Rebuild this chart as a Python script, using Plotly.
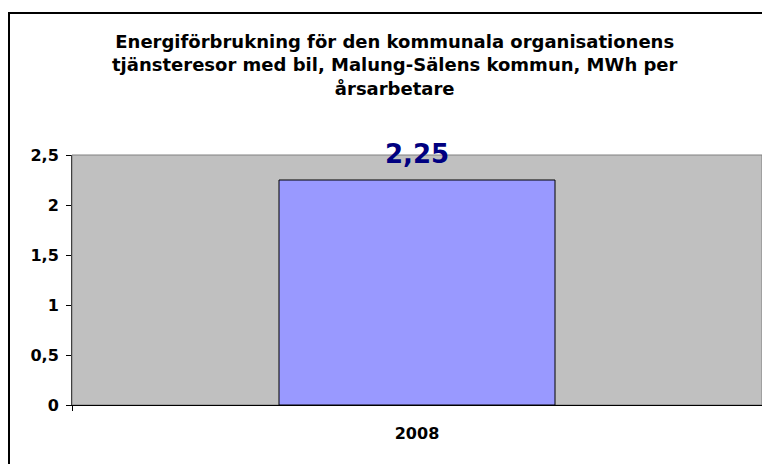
import plotly.graph_objects as go

categories = ["2008"]
values = [2.25]
y_tick_vals = [0, 0.5, 1, 1.5, 2, 2.5]
y_tick_text = ["0", "0,5", "1", "1,5", "2", "2,5"]
title_lines = [
    "Energiförbrukning för den kommunala organisationens",
    "tjänsteresor med bil, Malung-Sälens kommun, MWh per",
    "årsarbetare",
]

# the page body adds an 8px offset; work in figure coordinates
OFF = 8
W, H = 770 - OFF, 464 - OFF
L, R, T, B = 72 - OFF, 762 - OFF, 155 - OFF, 405 - OFF
FONT = "DejaVu Sans, Liberation Sans, Arial"

def px_x(p):
    return (p - OFF - L) / (R - L)

def px_y(p):
    return (B - (p - OFF)) / (B - T)

xpos = list(range(len(categories)))
bounds = [i - 0.5 for i in xpos] + [xpos[-1] + 0.5]

fig = go.Figure()
fig.add_trace(go.Bar(
    x=xpos, y=values, width=0.4,
    marker=dict(color="#9999FF", line=dict(color="#000000", width=1)),
    hoverinfo="skip",
))

for xp, v in zip(xpos, values):
    fig.add_annotation(
        x=xp, y=v, xref="x", yref="y",
        text=f"{v:.2f}".replace(".", ","),
        showarrow=False, yanchor="bottom", yshift=9,
        font=dict(family=FONT, size=26, color="#000080", weight="bold"),
    )

fig.add_annotation(
    x=px_x(395), y=px_y(65), xref="paper", yref="paper",
    text="<br>".join(title_lines),
    showarrow=False, xanchor="center", yanchor="middle",
    font=dict(family=FONT, size=18, color="#000000", weight="bold"),
)

# outer chart border (cut off at right and bottom)
fig.add_shape(type="rect", xref="paper", yref="paper",
              x0=px_x(9), x1=px_x(790), y0=px_y(480), y1=px_y(13),
              line=dict(color="#000000", width=2), layer="above")
# plot area border
fig.add_shape(type="rect", xref="paper", yref="paper",
              x0=0, x1=1, y0=0, y1=1,
              line=dict(color="#808080", width=1), layer="below")

fig.update_layout(
    width=W, height=H,
    margin=dict(l=L, r=W - R, t=T, b=H - B, pad=0, autoexpand=False),
    paper_bgcolor="#FFFFFF", plot_bgcolor="#C0C0C0",
    showlegend=False,
    font=dict(family=FONT, size=16, color="#000000"),
)
fig.update_xaxes(
    range=[bounds[0], bounds[-1]], tickvals=xpos, ticktext=categories,
    showgrid=False, showline=True, linecolor="#000000", linewidth=1,
    ticks="", zeroline=False, tickangle=0, automargin=False,
    tickfont=dict(family=FONT, size=16, color="#000000", weight="bold"),
    ticklabelstandoff=14,
    minor=dict(tickvals=bounds, ticks="outside", ticklen=5, tickcolor="#000000", showgrid=False),
)
fig.update_yaxes(
    range=[0, 2.5], tickvals=y_tick_vals, ticktext=y_tick_text,
    showgrid=False, showline=True, linecolor="#404040", linewidth=1,
    ticks="outside", ticklen=5, tickcolor="#000000", zeroline=False, automargin=False,
    tickfont=dict(family=FONT, size=16, color="#000000", weight="bold"),
    ticklabelstandoff=4,
)

fig.write_html("out.html")
